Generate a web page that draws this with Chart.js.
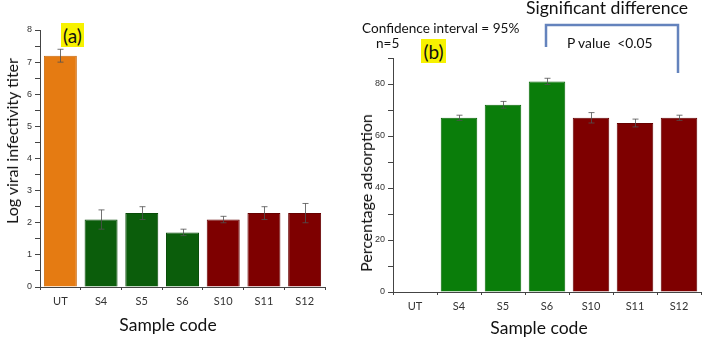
<!DOCTYPE html>
<html>
<head>
<meta charset="utf-8">
<script src="https://cdn.jsdelivr.net/npm/chart.js@4.4.0/dist/chart.umd.min.js"></script>
<style>
  html, body { margin:0; padding:0; background:#fff; }
  #wrap { position:relative; width:708px; height:341px; overflow:hidden; background:#fff; font-family:'Lato', 'Open Sans', sans-serif; color:#111; }
  canvas { position:absolute; top:0; }
  .t { position:absolute; white-space:pre; line-height:1; }
  .c { transform:translate(-50%,-50%); }
  .l { transform:translate(0,-50%); }
  .r { transform:translate(-50%,-50%) rotate(-90deg); }
  .hl { position:absolute; background:#f7f200; display:flex; align-items:center; justify-content:center; font-size:19px; line-height:1; }
</style>
</head>
<body>
<div id="wrap">
  <canvas id="ca" width="354" height="341" style="left:0"></canvas>
  <canvas id="cb" width="354" height="341" style="left:354px"></canvas>
  <svg width="708" height="341" style="position:absolute;left:0;top:0;pointer-events:none">
    <polyline points="546,47 546,25 678,25 678,73" fill="none" stroke="#6483bd" stroke-width="2.5"/>
  </svg>
  <div class="hl" style="left:61px;top:23px;width:23px;height:24px">(a)</div>
  <div class="hl" style="left:421px;top:39px;width:25px;height:24px">(b)</div>
  <div class="t r" style="left:12px;top:141px;font-size:16px">Log viral infectivity titer</div>
  <div class="t r" style="left:366px;top:193px;font-size:16px">Percentage adsorption</div>
  <div class="t c" style="left:168px;top:325px;font-size:17.5px">Sample code</div>
  <div class="t c" style="left:539px;top:328px;font-size:17.5px">Sample code</div>
  <div class="t l" style="left:362px;top:29px;font-size:13.6px">Confidence interval = 95%</div>
  <div class="t l" style="left:376px;top:44px;font-size:13.6px">n=5</div>
  <div class="t l" style="left:526px;top:8px;font-size:17.6px">Significant difference</div>
  <div class="t l" style="left:567px;top:43px;font-size:13.8px">P value  &lt;0.05</div>
</div>
<script>
// ---- data ----
const categories = ['UT', 'S4', 'S5', 'S6', 'S10', 'S11', 'S12'];
const titerValues = [7.2, 2.1, 2.3, 1.7, 2.1, 2.3, 2.3];
const titerErrors = [0.2, 0.3, 0.2, 0.1, 0.1, 0.2, 0.3];
const adsorptionValues = [0, 67, 72, 81, 67, 65, 67];
const adsorptionErrors = [0, 1, 1.3, 1.2, 2, 1.5, 1];

// ---- styles ----
const colorsA = ['#e57b12', '#0b5d0b', '#0b5d0b', '#0b5d0b', '#7e0000', '#7e0000', '#7e0000'];
const bordersA = ['#c8680a', '#084c08', '#084c08', '#084c08', '#660000', '#660000', '#660000'];
const colorsB = ['#0a7d0a', '#0a7d0a', '#0a7d0a', '#0a7d0a', '#7e0000', '#7e0000', '#7e0000'];
const bordersB = ['#086808', '#086808', '#086808', '#086808', '#660000', '#660000', '#660000'];

function errorBarPlugin(errors) {
  return {
    id: 'errbars',
    afterDatasetsDraw(chart) {
      const meta = chart.getDatasetMeta(0);
      const ys = chart.scales.y;
      const vals = chart.data.datasets[0].data;
      const ctx = chart.ctx;
      ctx.save();
      ctx.strokeStyle = 'rgba(80,80,80,0.8)';
      ctx.lineWidth = 1;
      meta.data.forEach((bar, i) => {
        const e = errors[i];
        if (!e) return;
        const x = Math.round(bar.x) + 0.5;
        const yt = ys.getPixelForValue(vals[i] + e);
        const yb = ys.getPixelForValue(vals[i] - e);
        ctx.beginPath();
        ctx.moveTo(x, yt); ctx.lineTo(x, yb);
        ctx.moveTo(x - 3, yt); ctx.lineTo(x + 3, yt);
        ctx.moveTo(x - 3, yb); ctx.lineTo(x + 3, yb);
        ctx.stroke();
      });
      ctx.restore();
    }
  };
}

function makeChart(id, values, errors, colors, borders, yMax, step, labelEvery, pad, yWidth, xHeight, barPct) {
  return new Chart(document.getElementById(id), {
    type: 'bar',
    data: {
      labels: categories,
      datasets: [{
        data: values,
        backgroundColor: colors,
        borderColor: borders,
        borderWidth: 1,
        barPercentage: barPct,
        categoryPercentage: 1
      }]
    },
    options: {
      responsive: false,
      animation: false,
      layout: { padding: pad },
      plugins: { legend: { display: false }, tooltip: { enabled: false } },
      scales: {
        x: {
          grid: { drawOnChartArea: false, tickLength: 3, color: '#444', offset: true },
          border: { color: '#444', width: 1 },
          ticks: { color: '#333', font: { family: 'Lato', size: 11 }, padding: 5 },
          afterFit: s => { s.height = xHeight; }
        },
        y: {
          min: 0, max: yMax,
          grid: { drawOnChartArea: false, tickLength: 5, color: '#444' },
          border: { color: '#444', width: 1 },
          ticks: {
            stepSize: step,
            color: '#333',
            font: { family: 'Liberation Sans', size: 9 },
            padding: 3,
            autoSkip: false,
            callback: v => (Math.abs(v / labelEvery - Math.round(v / labelEvery)) < 1e-6 ? String(Math.round(v)) : '')
          },
          afterFit: s => { s.width = yWidth; }
        }
      }
    },
    plugins: [errorBarPlugin(errors)]
  });
}

makeChart('ca', titerValues, titerErrors, colorsA, bordersA, 8, 0.5, 1,
  { left: 0, right: 29, top: 30, bottom: 0 }, 40, 54, 0.81);
makeChart('cb', adsorptionValues, adsorptionErrors, colorsB, bordersB, 90, 10, 20,
  { left: 0, right: 7, top: 58, bottom: 0 }, 39, 49, 0.83);
</script>
</body>
</html>
